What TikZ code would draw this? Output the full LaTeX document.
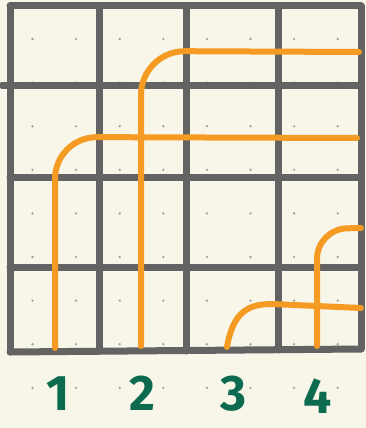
\documentclass[tikz,border=0pt]{standalone}
\usepackage{fontspec}
\setsansfont{Fira Sans}
\usepackage{tikz}

\definecolor{paper}{HTML}{F8F5E9}
\definecolor{gridgray}{HTML}{636363}
\definecolor{routeorange}{HTML}{F59B23}
\definecolor{labelgreen}{HTML}{0C6B4E}
\definecolor{dotgray}{HTML}{A3A29D}

\begin{document}
\begin{tikzpicture}[x=1pt, y=-1pt, line join=round, line cap=round,
  gridline/.style={gridgray, line width=7pt},
  route/.style={routeorange, line width=6pt},
  digit/.style={labelgreen, inner sep=0pt,
    font=\sffamily\bfseries\fontsize{50}{50}\selectfont}]
  \fill[paper] (0,0) rectangle (366,428);
  \useasboundingbox (0,0) rectangle (366,428);
  % dotted paper
  \foreach \i in {0,...,7}
    \foreach \j in {0,...,8}
      \fill[dotgray] (32.5+43.6*\i, 39+43.6*\j) circle (1.3pt);
  % grid
  \draw[gridline] (10,6) -- (10,352);
  \draw[gridline] (99,6) -- (99,351);
  \draw[gridline] (186,6) -- (186,351);
  \draw[gridline] (278,6) -- (278,350);
  \draw[gridline] (361,6) -- (361,349);
  \draw[gridline] (10,6) -- (361,6);
  \draw[gridline] (2,85) -- (361,85);
  \draw[gridline] (10,177) -- (361,177);
  \draw[gridline] (10,267) -- (361,267);
  \draw[gridline] (10,352) -- (361,349);
  % routes
  \draw[route, rounded corners=42pt] (55,348) -- (55,137) -- (357,138);
  \draw[route, rounded corners=44pt] (141,346) -- (141,51) -- (359,52);
  \draw[route] (227,347) .. controls (233,312) and (248,304) .. (272,304) -- (361,308);
  \draw[route, rounded corners=30pt] (317,346) -- (317,229) -- (361,228);
  % labels
  \node[digit] (n1) at (58,394) {1};
  \node[digit] (n2) at (142,393) {2};
  \node[digit] (n3) at (233,394) {3};
  \node[digit] (n4) at (318,396) {4};
\end{tikzpicture}
\end{document}
